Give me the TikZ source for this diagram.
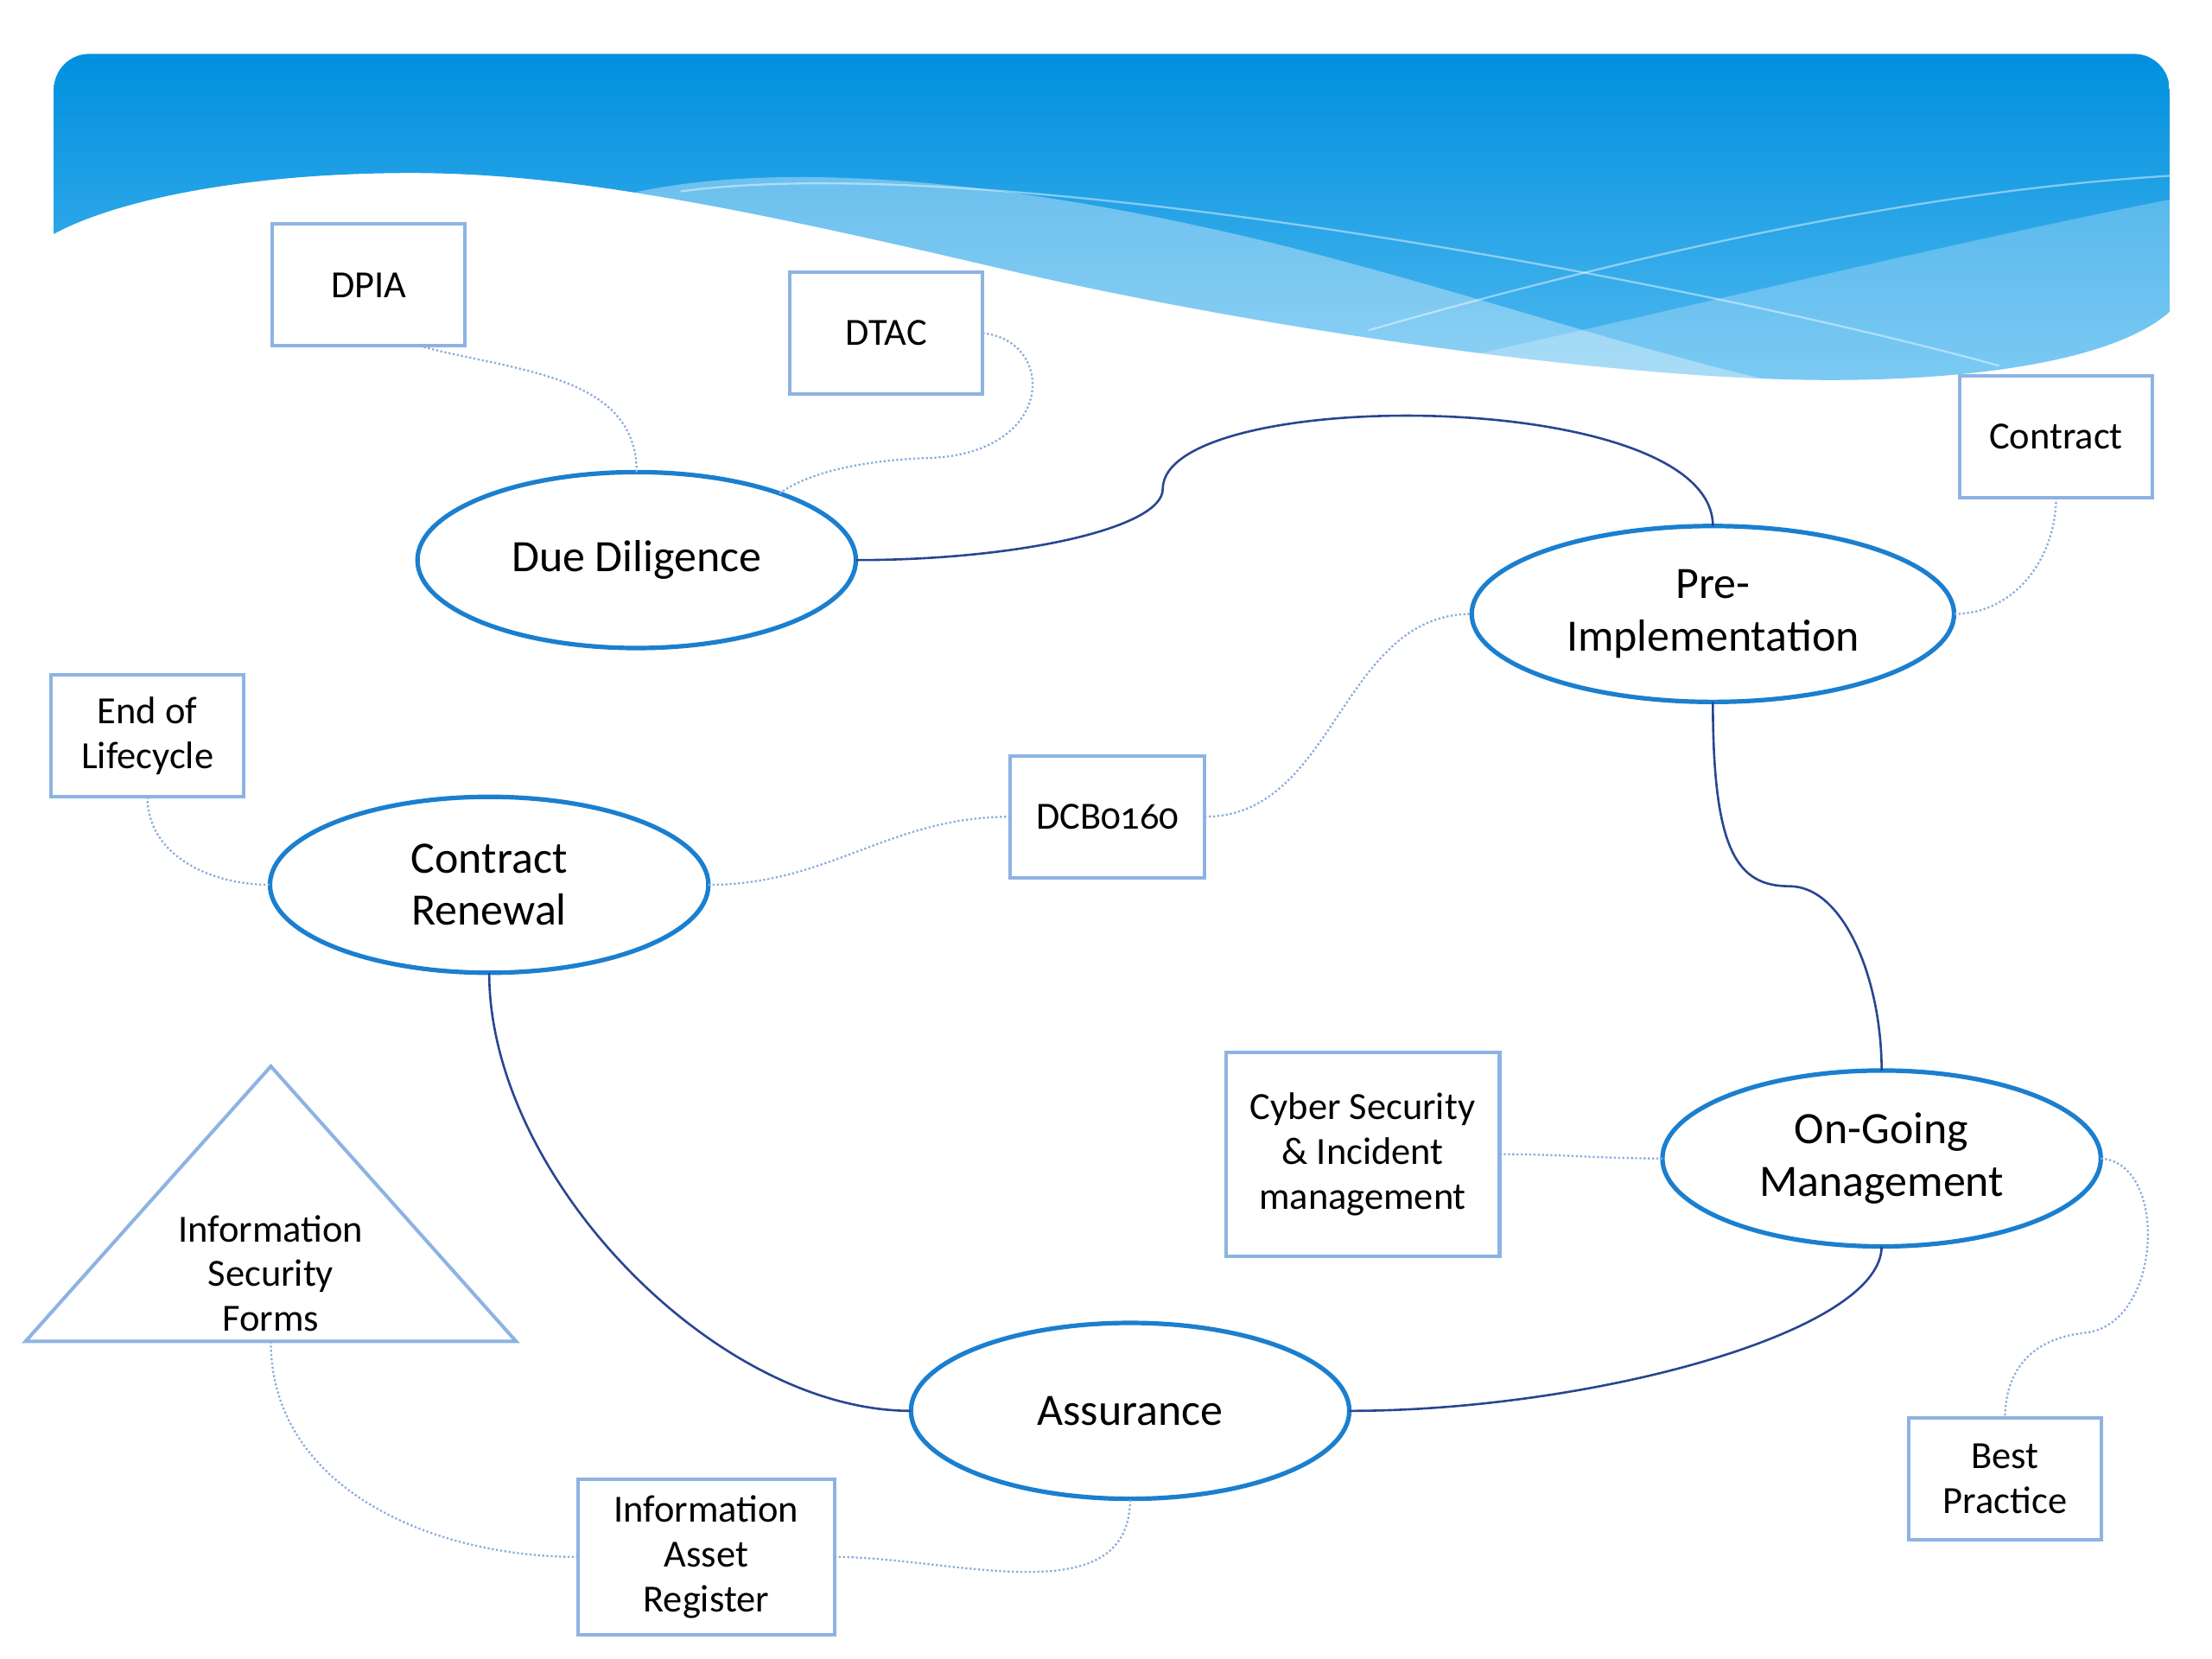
\documentclass[tikz,border=0pt]{standalone}
\usepackage{fontspec}
\setmainfont[Numbers=OldStyle]{Carlito}
\usetikzlibrary{shapes.geometric,positioning}
\definecolor{ovalblue}{RGB}{27,127,207}
\definecolor{boxblue}{RGB}{142,179,226}
\definecolor{linkblue}{RGB}{40,70,145}
\definecolor{dotblue}{RGB}{140,172,222}
\definecolor{bannertop}{RGB}{0,144,222}
\definecolor{bannerlow}{RGB}{80,185,240}
\begin{document}
\begin{tikzpicture}[x=0.01cm,y=0.01cm,every node/.append style={align=center},
    box/.style={draw=boxblue, line width=0.7pt, fill=white, minimum width=1.36cm, minimum height=0.86cm, inner sep=0pt, outer sep=0pt, font=\fontsize{7.7}{8.95}\selectfont},
    phase/.style={draw=ovalblue, ellipse, line width=0.9pt, fill=white, minimum width=3.09cm, minimum height=1.24cm, inner sep=0pt, outer sep=0pt, font=\fontsize{9}{10.5}\selectfont},
    link/.style={draw=linkblue, line width=0.45pt},
    aux/.style={draw=dotblue, line width=0.4pt, dash pattern=on 0.4pt off 0.45pt}]
                \useasboundingbox (0,-1170) rectangle (1560,0);
                % banner
                \begin{scope}
                \clip (38,-165) -- (38,-63) arc[start angle=180,end angle=90,radius=25] -- (1505,-38) arc[start angle=90,end angle=0,radius=25] -- (1530,-220)
                  .. controls (1490,-255) and (1390,-268) .. (1290,-268) .. controls (1150,-268) and (900,-235) .. (700,-188)
                  .. controls (520,-146) and (400,-122) .. (290,-122) .. controls (170,-122) and (80,-142) .. (38,-165) -- cycle;
                \shade[top color=bannertop, bottom color=bannerlow] (38,-38) rectangle (1530,-270);
                \fill[white, opacity=0.35] (430,-140) .. controls (520,-115) and (680,-118) .. (900,-172) .. controls (1100,-222) and (1250,-285) .. (1420,-295) -- (1560,-300) -- (1560,-320) -- (430,-320) -- cycle;
                \fill[white, opacity=0.25] (1560,-135) .. controls (1400,-165) and (1200,-215) .. (950,-270) -- (950,-320) -- (1560,-320) -- cycle;
                \draw[white, opacity=0.45, line width=0.4pt] (480,-135) .. controls (700,-105) and (1200,-200) .. (1410,-258);
                \draw[white, opacity=0.45, line width=0.4pt] (965,-233) .. controls (1150,-180) and (1350,-135) .. (1530,-124);
                \end{scope}

                \node [box] (DPIA) at (260,-201)  {DPIA};
                \node [box] (DTAC) at (625,-235)  {DTAC};
                \node [box] (CON)  at (1450,-308) {Contract};
                \node [box] (EOL)  at (104,-519)  {End of\\Lifecycle};
                \node [box, minimum width=1.37cm] (DCB) at (781,-576) {DCB0160};
                \node [box, minimum width=1.93cm, minimum height=1.44cm] (CYB) at (961,-814) {Cyber Security\\\& Incident\\management};
                \node [box, minimum width=1.81cm, minimum height=1.10cm] (IAR) at (498,-1098) {Information\\Asset\\Register};
                \node [box] (BP)   at (1414,-1043) {Best\\Practice};

                \node [phase] (DD) at (449,-395)  {Due Diligence};
                \node [phase, minimum width=3.4cm] (PI) at (1208,-433) {Pre-\\Implementation};
                \node [phase] (CR) at (345,-624)  {Contract\\Renewal};
                \node [phase] (OG) at (1327,-817) {On-Going\\Management};
                \node [phase] (AS) at (797,-995)  {Assurance};

                \draw[draw=boxblue, line width=0.7pt] (191,-752) -- (364,-946) -- (18,-946) -- cycle;
                \coordinate (ISFB) at (191,-946);
                \node [font=\fontsize{7.7}{8.95}\selectfont] (ISF) at (191,-898) {Information\\Security\\Forms};

                \path[link] (DD.east) .. controls (720,-395) and (820,-372) .. (820,-345) .. controls (820,-272) and (1208,-272) .. (PI.north);
                \path[link] (PI.south) .. controls (1208,-600) and (1225,-625) .. (1262,-625) .. controls (1300,-625) and (1327,-690) .. (OG.north);
                \path[link] (OG.south) .. controls (1327,-940) and (1120,-995) .. (AS.east);
                \path[link] (CR.south) .. controls (345,-830) and (505,-995) .. (AS.west);

                \path[aux] ([xshift=0.36cm]DPIA.south) to[out=-15,in=90] (DD.north);
                \path[aux] (DTAC.east) .. controls (745,-240) and (745,-320) .. (655,-323) .. controls (595,-325) and (563,-338) .. (DD.25);
                \path[aux] (CON.south) to[out=-90,in=0] (PI.east);
                \path[aux] (DCB.east) to[out=0,in=180] (PI.west);
                \path[aux] (CR.east) to[out=0,in=180] (DCB.west);
                \path[aux] (EOL.south) to[out=-90,in=180] (CR.west);
                \path[aux] (CYB.east) to[out=0,in=180] (OG.west);
                \path[aux] (OG.east) .. controls (1530,-820) and (1525,-935) .. (1470,-940) .. controls (1425,-945) and (1414,-975) .. (BP.north);
                \path[aux] (ISFB) to[out=-90,in=180] (IAR.west);
                \path[aux] (IAR.east) to[out=0,in=-90] (AS.south);
            \end{tikzpicture}
\end{document}
